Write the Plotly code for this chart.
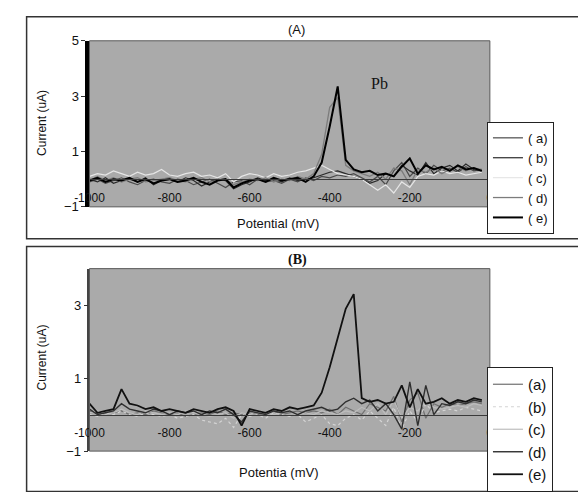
import plotly.graph_objects as go

# ---------------- data ----------------
potential = list(range(-1000, 0, 20))  # mV

# Panel A
A_a = [-0.1,0.0,-0.15,-0.05,0.05,-0.1,-0.2,-0.05,0.0,-0.1,
       -0.15,0.0,-0.05,-0.2,-0.1,0.0,-0.15,-0.3,-0.1,-0.05,
       -0.2,0.0,-0.1,-0.05,-0.15,0.0,-0.1,0.05,-0.05,0.1,
       0.05,0.15,0.1,0.2,0.05,-0.1,0.1,-0.2,0.3,0.6,
       0.1,0.4,0.2,0.5,0.3,0.4,0.25,0.45,0.3,0.35]
A_b = [0.0,-0.1,0.05,-0.15,-0.05,0.0,-0.1,0.05,-0.2,-0.05,
       0.0,-0.1,0.05,-0.05,-0.25,-0.1,0.0,-0.05,-0.35,-0.2,
       -0.1,0.05,-0.05,0.0,-0.1,0.05,-0.05,0.0,0.05,0.15,
       0.25,0.3,0.2,0.1,0.0,-0.15,-0.05,0.2,0.1,0.5,
       0.3,0.15,0.6,0.2,0.4,0.5,0.3,0.55,0.35,0.3]
A_c = [0.1,0.2,0.15,0.3,0.2,0.1,0.25,0.15,0.2,0.35,
       0.15,0.1,0.2,0.25,0.1,0.15,0.05,0.2,-0.1,0.1,
       0.2,0.15,0.05,0.2,0.1,0.15,0.25,0.3,0.4,0.5,
       0.35,0.2,0.15,0.1,0.0,-0.2,-0.4,-0.2,-0.5,-0.1,
       -0.3,0.1,0.2,0.15,0.3,0.2,0.25,0.15,0.2,0.25]
A_d = [-0.05,0.1,-0.05,0.05,-0.1,0.0,0.05,-0.1,-0.05,0.0,
       0.05,-0.05,-0.1,0.0,0.05,-0.1,-0.05,0.0,-0.2,-0.1,
       0.0,-0.05,0.05,-0.1,0.0,-0.05,0.1,0.0,0.2,0.9,
       2.6,2.95,0.5,0.3,0.2,0.1,0.25,0.0,0.4,0.3,
       -0.2,0.35,0.25,0.4,0.2,0.35,0.45,0.3,0.4,0.35]
A_e = [-0.05,0.05,-0.1,0.0,-0.05,0.05,-0.1,0.0,-0.15,-0.05,
       0.0,-0.1,-0.05,0.05,-0.1,-0.2,-0.05,0.0,-0.3,-0.15,
       -0.05,0.0,-0.1,0.05,-0.05,0.0,0.05,-0.1,0.1,0.6,
       1.9,3.35,0.7,0.35,0.25,0.3,0.15,0.2,0.1,0.45,
       0.75,0.2,0.5,0.35,0.45,0.3,0.5,0.35,0.4,0.3]

# Panel B
B_a = [0.1,0.05,0.0,0.05,0.1,0.0,0.05,0.0,0.1,0.05,
       0.0,0.05,-0.05,0.0,0.05,0.0,0.1,0.0,0.05,0.0,
       0.05,0.0,0.05,0.1,0.0,0.05,0.1,0.05,0.1,0.05,
       0.15,0.0,0.2,0.1,0.0,0.3,0.2,0.1,0.5,-0.2,
       0.4,0.6,-0.1,0.3,0.2,0.3,0.25,0.3,0.35,0.3]
B_b = [0.0,-0.05,0.05,0.0,0.1,0.0,-0.05,0.05,0.0,-0.05,
       0.0,-0.1,-0.05,0.0,-0.15,-0.2,-0.25,-0.1,-0.35,0.0,
       -0.05,0.0,-0.1,0.05,0.0,-0.05,0.0,-0.2,-0.1,0.0,
       -0.25,-0.3,-0.1,0.0,-0.15,0.1,-0.1,-0.3,0.2,-0.4,
       0.1,-0.2,0.3,0.05,0.1,0.15,0.1,0.2,0.15,0.1]
B_c = [0.05,0.1,0.0,0.05,0.15,0.05,0.0,0.1,0.05,0.0,
       0.05,0.0,0.1,0.05,0.0,-0.05,0.0,0.05,-0.1,0.05,
       0.0,0.1,0.05,0.0,0.05,0.1,0.0,0.05,0.0,0.1,
       0.05,0.0,0.1,0.05,0.2,0.1,0.3,0.0,0.4,-0.1,
       0.2,0.1,0.35,0.2,0.15,0.2,0.25,0.2,0.3,0.25]
B_d = [0.15,0.0,0.05,0.1,0.3,0.15,0.1,0.05,0.15,0.1,
       0.0,0.1,0.05,0.1,0.0,0.1,0.05,0.15,0.0,-0.2,
       0.1,0.05,0.0,0.1,0.05,0.1,0.0,0.1,0.15,0.2,
       0.1,0.15,0.35,0.45,0.3,0.4,0.1,0.3,0.0,-0.4,
       0.9,-0.3,0.8,0.0,0.3,0.25,0.35,0.3,0.4,0.35]
B_e = [0.3,0.05,0.1,0.15,0.7,0.3,0.25,0.15,0.2,0.1,
       0.15,0.1,0.05,0.15,0.1,0.05,0.15,0.2,0.1,-0.3,
       0.15,0.1,0.05,0.15,0.1,0.2,0.15,0.2,0.25,0.6,
       1.3,2.1,2.9,3.3,0.45,0.35,0.4,0.3,0.35,0.8,
       0.2,0.7,0.3,0.35,0.45,0.3,0.4,0.35,0.45,0.4]

labels_A = ["( a)", "( b)", "( c)", "( d)", "( e)"]
labels_B = ["(a)", "(b)", "(c)", "(d)", "(e)"]
x_ticks = [-1000, -800, -600, -400, -200, 0]
yticks_A = [-1, 1, 3, 5]
yticks_B = [-1, 1, 3]

# ---------------- styles ----------------
styles_A = [dict(color="#4a4a4a", width=1.2, dash="solid"),
            dict(color="#2a2a2a", width=1.2, dash="solid"),
            dict(color="#e6e6e6", width=1.2, dash="solid"),
            dict(color="#7c7c7c", width=1.3, dash="solid"),
            dict(color="#000000", width=2.0, dash="solid")]
styles_B = [dict(color="#707070", width=1.2, dash="solid"),
            dict(color="#d4d4d4", width=1.2, dash="dot"),
            dict(color="#bdbdbd", width=1.2, dash="solid"),
            dict(color="#2f2f2f", width=1.4, dash="solid"),
            dict(color="#111111", width=1.8, dash="solid")]

fig = go.Figure()
for ys, lab, st in zip([A_a, A_b, A_c, A_d, A_e], labels_A, styles_A):
    fig.add_trace(go.Scatter(x=potential, y=ys, mode="lines", name=lab,
                             line=st, xaxis="x", yaxis="y", legend="legend"))
for ys, lab, st in zip([B_a, B_b, B_c, B_d, B_e], labels_B, styles_B):
    fig.add_trace(go.Scatter(x=potential, y=ys, mode="lines", name=lab,
                             line=st, xaxis="x2", yaxis="y2", legend="legend2"))

W, H = 578, 492
def px(x): return x / W
def py(y): return 1 - y / H

xdom = [px(77), px(491)]
ydomA = [py(207), py(35)]
ydomB = [py(460), py(271)]
posA = ydomA[0] + (ydomA[1] - ydomA[0]) * (1 / 6)
posB = ydomB[0] + (ydomB[1] - ydomB[0]) * (1 / 5)

tickfont = dict(family="Liberation Sans, Arial", size=12, color="#111")
xcommon = dict(range=[-1000, 0], tickvals=x_ticks, ticktext=[str(v) for v in x_ticks],
               showgrid=False, zeroline=False, showline=True, linecolor="#3a3a3a",
               linewidth=1, ticks="outside", ticklen=7, tickcolor="rgba(0,0,0,0)",
               tickfont=tickfont, domain=xdom, anchor="free")
ycommon = dict(showgrid=False, zeroline=False, ticks="outside", ticklen=4,
               tickcolor="#333", tickfont=dict(family="Liberation Sans, Arial", size=13, color="#111"))

legend_common = dict(bgcolor="white", bordercolor="#222", borderwidth=1,
                     xanchor="left", yanchor="top", tracegroupgap=0, traceorder="normal")

fig.update_layout(
    width=W, height=H, autosize=False,
    margin=dict(l=0, r=0, t=0, b=0),
    paper_bgcolor="white", plot_bgcolor="#aaaaaa",
    showlegend=True,
    xaxis=dict(**xcommon, position=posA),
    yaxis=dict(**ycommon, domain=ydomA, range=[-1, 5], tickvals=yticks_A, anchor="x",
               showline=True, linecolor="#000", linewidth=4),
    xaxis2=dict(**xcommon, position=posB),
    yaxis2=dict(**ycommon, domain=ydomB, range=[-1, 4], tickvals=yticks_B, anchor="x2",
                showline=True, linecolor="#444", linewidth=1.5),
    legend=dict(**legend_common, x=px(488), y=py(119),
                font=dict(family="Liberation Sans, Arial", size=13, color="#111")),
    legend2=dict(**legend_common, x=px(488), y=py(373),
                 font=dict(family="Liberation Sans, Arial", size=15, color="#111")),
)

# plot-area borders
for xr, yr in [("x domain", "y domain"), ("x2 domain", "y2 domain")]:
    fig.add_shape(type="rect", xref=xr, yref=yr, x0=0, x1=1, y0=0, y1=1,
                  line=dict(color="#5a5a5a", width=1), layer="above")
# panel frames
fig.add_shape(type="rect", xref="paper", yref="paper", x0=px(12), x1=1.02,
              y0=py(240), y1=py(10), line=dict(color="#333", width=1.5))
fig.add_shape(type="rect", xref="paper", yref="paper", x0=px(12), x1=1.02,
              y0=-0.02, y1=py(248), line=dict(color="#333", width=1.5))

ann_font = dict(family="Liberation Sans, Arial", color="#111")
annotations = [
    dict(text="(A)", x=px(291), y=py(23), font=dict(size=13, **ann_font)),
    dict(text="<b>(B)</b>", x=px(292), y=py(262), font=dict(size=14, family="Liberation Serif", color="#111")),
    dict(text="Pb", x=px(377), y=py(79), font=dict(size=16, family="Liberation Serif", color="#111")),
    dict(text="Potential (mV)", x=px(272), y=py(224), font=dict(size=13, **ann_font)),
    dict(text="Potentia (mV)", x=px(272), y=py(482), font=dict(size=13, **ann_font)),
    dict(text="Current (uA)", x=px(28), y=py(120), textangle=-90, font=dict(size=12, **ann_font)),
    dict(text="Current (uA)", x=px(28), y=py(363), textangle=-90, font=dict(size=12, **ann_font)),
]
for a in annotations:
    fig.add_annotation(xref="paper", yref="paper", showarrow=False,
                       xanchor="center", yanchor="middle", **a)

fig.write_html("out.html")
